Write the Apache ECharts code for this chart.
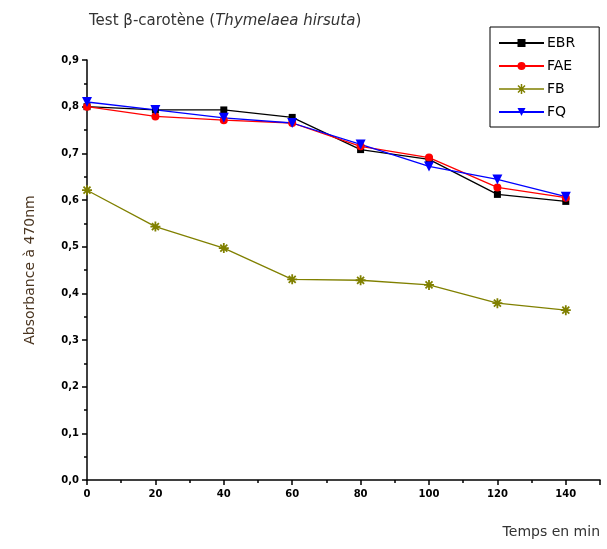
<!DOCTYPE html>
<html>
<head>
<meta charset="utf-8">
<script src="https://cdn.jsdelivr.net/npm/echarts@6/dist/echarts.min.js"></script>
<style>
  html, body { margin: 0; padding: 0; background: #fff; }
  #chart { width: 607px; height: 549px; }
</style>
</head>
<body>
<div id="chart"></div>
<script>
    // data
    var temps = [0, 20, 40, 60, 80, 100, 120, 140];
    var ebr = [0.800, 0.793, 0.793, 0.777, 0.708, 0.687, 0.612, 0.597];
    var fae = [0.800, 0.779, 0.771, 0.765, 0.715, 0.691, 0.627, 0.605];
    var fb  = [0.621, 0.543, 0.497, 0.430, 0.428, 0.418, 0.379, 0.364];
    var fq  = [0.810, 0.793, 0.776, 0.765, 0.719, 0.672, 0.644, 0.607];

    function pairs(ys) {
        return temps.map(function (t, i) { return [t, ys[i]]; });
    }

    var star = 'path://M0,5 L10,5 M5,0 L5,10 M1.5,1.5 L8.5,8.5 M1.5,8.5 L8.5,1.5';
    // legend icon: line + asterisk in a 45x10 box
    var starLine = 'path://M0,5 L45,5 M22.5,0 L22.5,10 M19,1.5 L26,8.5 M19,8.5 L26,1.5';
    var tickFont = {fontFamily: 'DejaVu Sans', fontWeight: 'bold', fontSize: 10, color: '#000'};

    var chart = echarts.init(document.getElementById('chart'));
    var option = {
        animation: false,
        backgroundColor: '#fff',
        title: {
            text: 'Test β-carotène ({i|Thymelaea hirsuta})',
            left: 84,
            top: 9,
            textStyle: {
                fontFamily: 'DejaVu Sans',
                fontSize: 15,
                fontWeight: 'normal',
                color: '#333',
                rich: {
                    i: {fontFamily: 'DejaVu Sans', fontSize: 15, fontStyle: 'italic', color: '#333'}
                }
            }
        },
        legend: {
            orient: 'vertical',
            left: 490,
            top: 27,
            padding: [9, 24, 8, 8],
            itemGap: 9,
            itemWidth: 45,
            itemHeight: 10,
            borderColor: '#000',
            borderWidth: 1,
            textStyle: {fontFamily: 'DejaVu Sans', fontSize: 14, color: '#000', padding: [0, 0, 0, -2]},
            data: [
                'EBR', 'FAE',
                {name: 'FB', icon: starLine, itemStyle: {color: 'rgba(0,0,0,0)', borderColor: '#808000', borderWidth: 1.5}},
                'FQ'
            ]
        },
        grid: {left: 87, right: 7, top: 60, bottom: 69},
        xAxis: {
            type: 'value',
            min: 0,
            max: 150,
            interval: 20,
            name: 'Temps en min',
            nameLocation: 'end',
            nameGap: 0,
            nameTextStyle: {
                fontFamily: 'DejaVu Sans', fontSize: 14, color: '#333',
                align: 'right', verticalAlign: 'top', padding: [45, 0, 0, 0]
            },
            axisLine: {lineStyle: {color: '#000', width: 1.5}},
            axisTick: {length: 5, lineStyle: {color: '#000', width: 1.5}},
            minorTick: {show: true, splitNumber: 2, length: 3, lineStyle: {color: '#000', width: 1.5}},
            splitLine: {show: false},
            axisLabel: Object.assign({
                margin: 9,
                formatter: function (v) { return v > 140 ? '' : String(v); }
            }, tickFont)
        },
        yAxis: {
            type: 'value',
            min: 0,
            max: 0.9,
            interval: 0.1,
            name: 'Absorbance à 470nm',
            nameLocation: 'middle',
            nameGap: 50,
            nameTextStyle: {fontFamily: 'DejaVu Sans', fontSize: 14, color: '#4a3520'},
            axisLine: {show: true, lineStyle: {color: '#000', width: 1.5}},
            axisTick: {show: true, length: 5, lineStyle: {color: '#000', width: 1.5}},
            minorTick: {show: true, splitNumber: 2, length: 3, lineStyle: {color: '#000', width: 1.5}},
            splitLine: {show: false},
            axisLabel: Object.assign({
                margin: 8,
                formatter: function (v) { return v.toFixed(1).replace('.', ','); }
            }, tickFont)
        },
        series: [
            {
                name: 'EBR', type: 'line', data: pairs(ebr),
                symbol: 'rect', symbolSize: 7,
                lineStyle: {color: '#000', width: 1.3},
                itemStyle: {color: '#000'}
            },
            {
                name: 'FAE', type: 'line', data: pairs(fae),
                symbol: 'circle', symbolSize: 8,
                lineStyle: {color: '#ff0000', width: 1.3},
                itemStyle: {color: '#ff0000'}
            },
            {
                name: 'FB', type: 'line', data: pairs(fb),
                symbol: star, symbolSize: 10,
                lineStyle: {color: '#808000', width: 1.3},
                itemStyle: {color: 'rgba(0,0,0,0)', borderColor: '#808000', borderWidth: 1.8}
            },
            {
                name: 'FQ', type: 'line', data: pairs(fq),
                symbol: 'triangle', symbolRotate: 180, symbolSize: 10,
                lineStyle: {color: '#0000ff', width: 1.3},
                itemStyle: {color: '#0000ff'}
            }
        ]
    };
    chart.setOption(option);
</script>
</body>
</html>
